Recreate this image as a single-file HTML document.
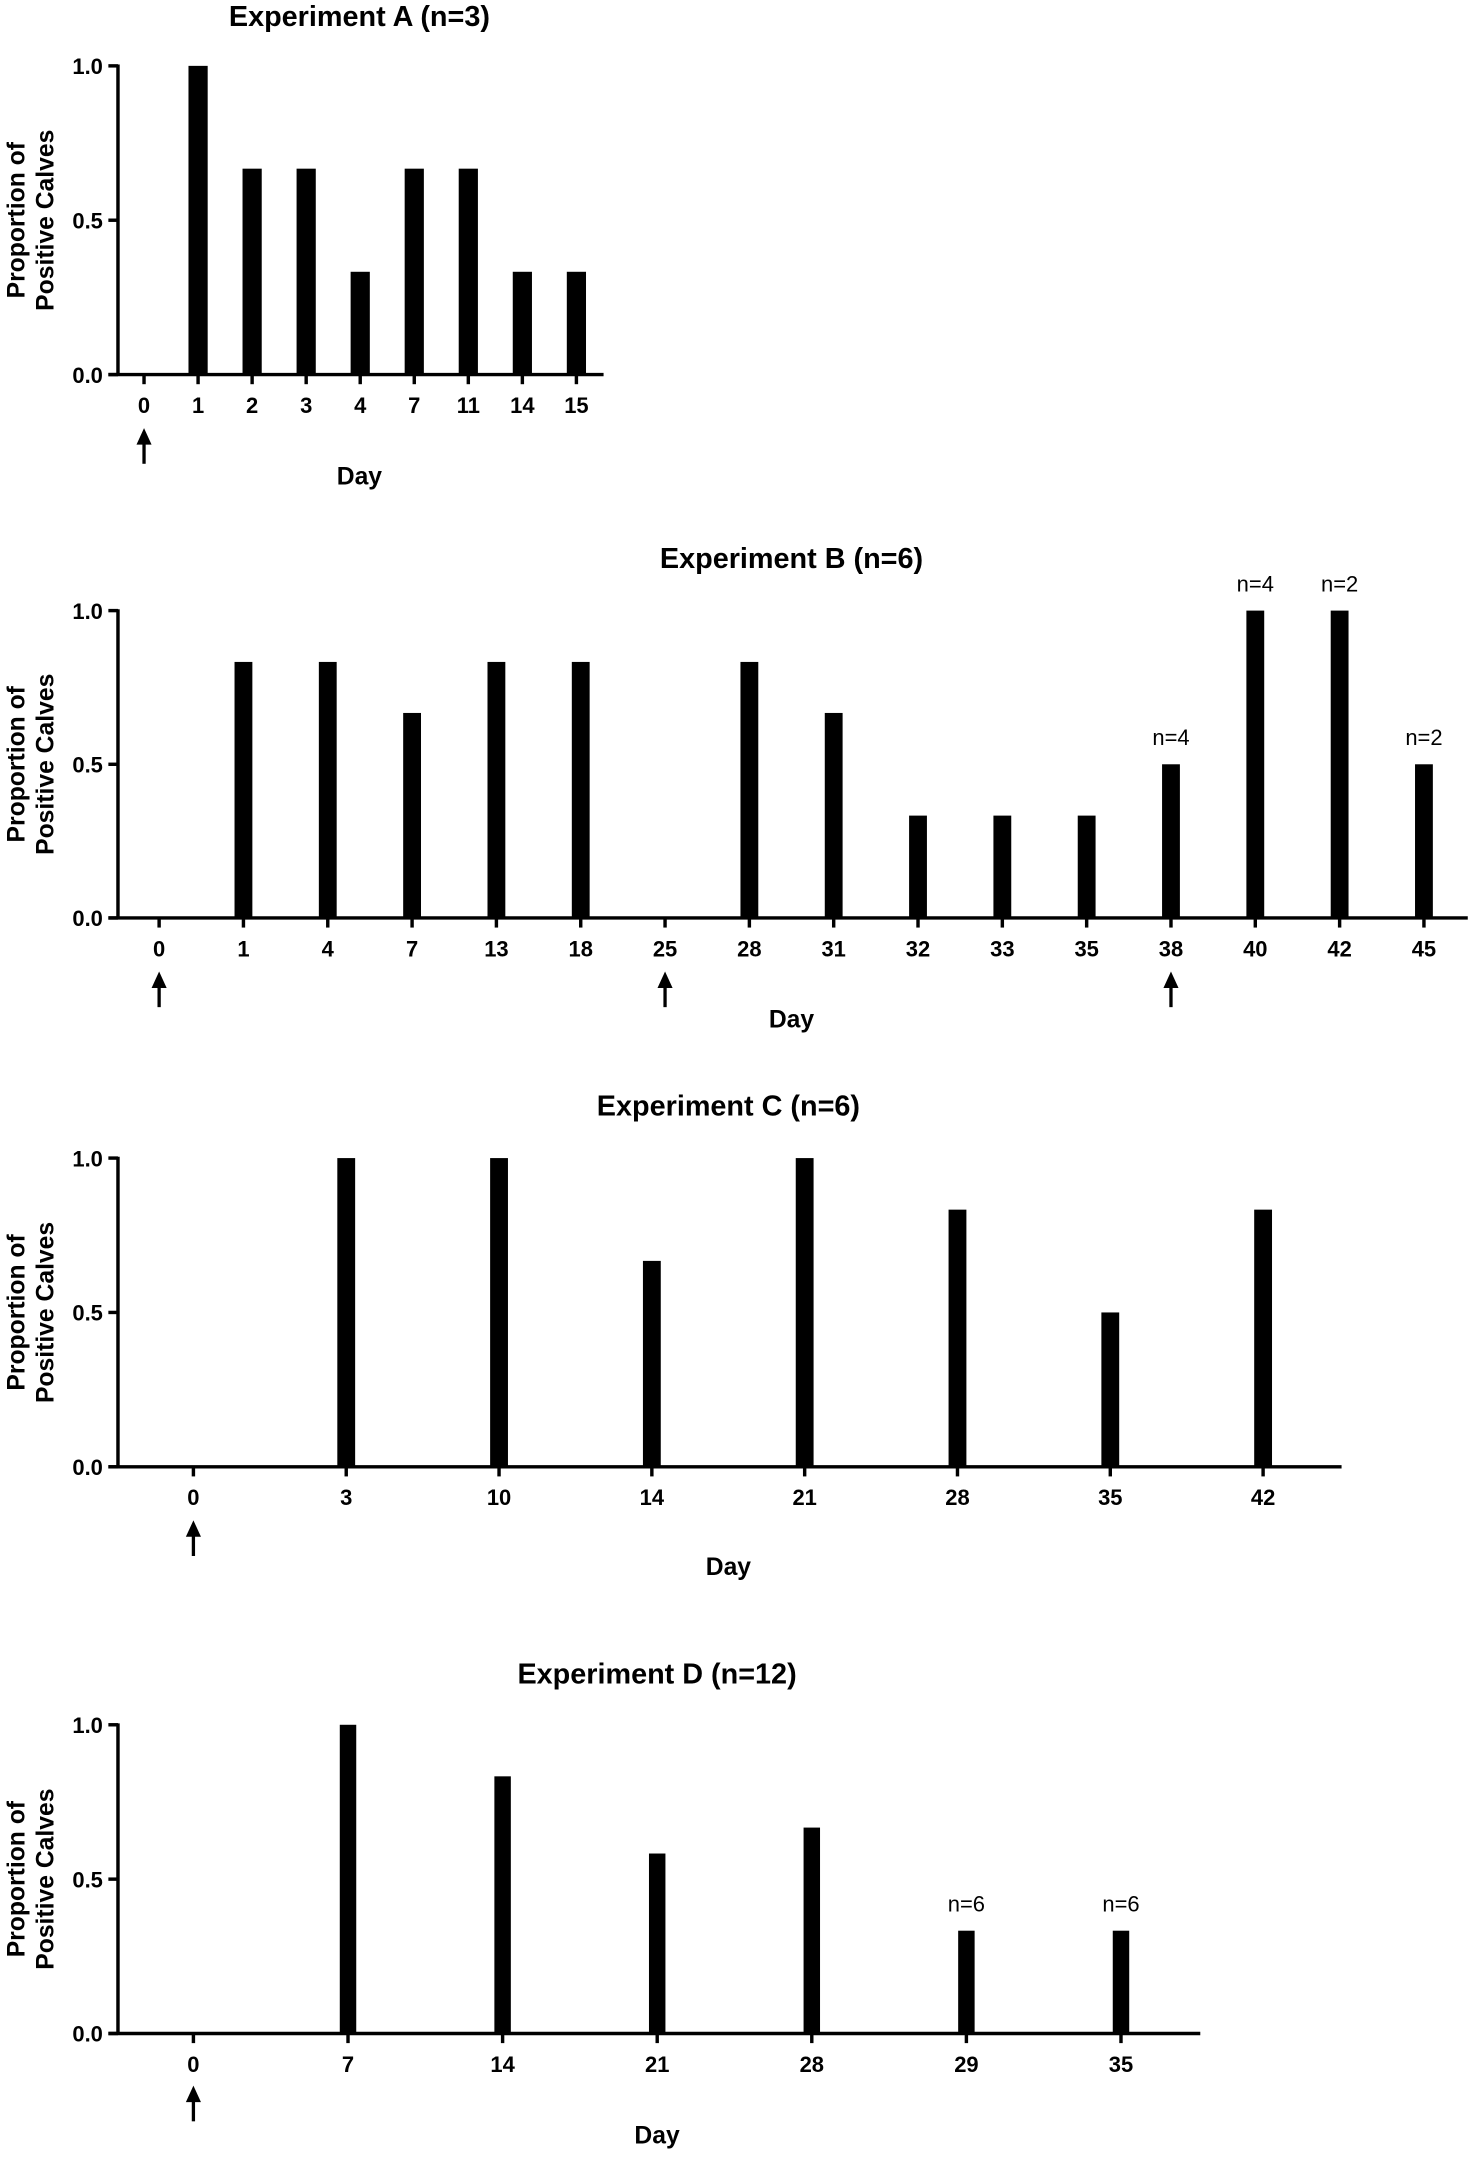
<!DOCTYPE html>
<html><head><meta charset="utf-8"><style>
html,body{margin:0;padding:0;background:#fff;}
svg{display:block;}
text{font-family:"Liberation Sans",Arial,sans-serif;fill:#000;}
</style></head><body>
<svg id="fig" width="1476" height="2157" viewBox="0 0 1076 1572" preserveAspectRatio="none" xmlns="http://www.w3.org/2000/svg"></svg>
<script>
const daysA=["0","1","2","3","4","7","11","14","15"];
const valsA=[0,1,0.667,0.667,0.333,0.667,0.667,0.333,0.333];
const notesA=["","","","","","","","",""];
const arrowsA=["0"];

const daysB=["0","1","4","7","13","18","25","28","31","32","33","35","38","40","42","45"];
const valsB=[0,0.833,0.833,0.667,0.833,0.833,0,0.833,0.667,0.333,0.333,0.333,0.5,1,1,0.5];
const notesB=["","","","","","","","","","","","","n=4","n=4","n=2","n=2"];
const arrowsB=["0","25","38"];

const daysC=["0","3","10","14","21","28","35","42"];
const valsC=[0,1,1,0.667,1,0.833,0.5,0.833];
const notesC=["","","","","","","",""];
const arrowsC=["0"];

const daysD=["0","7","14","21","28","29","35"];
const valsD=[0,1,0.833,0.583,0.667,0.333,0.333];
const notesD=["","","","","","n=6","n=6"];
const arrowsD=["0"];

const yTicks=[0,0.5,1.0];
const yTickLabels=["0.0","0.5","1.0"];

const svg=document.getElementById('fig');
const NS="http://www.w3.org/2000/svg";
function mk(tag,attrs,parent){const e=document.createElementNS(NS,tag);for(const k in attrs)e.setAttribute(k,attrs[k]);(parent||svg).appendChild(e);return e;}

function chart(id,title,days,vals,notes,arrows,L){
  const g=mk('g',{});
  
  
  const yS=v=>L.y0+(L.y1-L.y0)*v;
  const xS=i=>L.x0+L.step*i;
  const t=mk('text',{x:L.tx,y:L.ty,'text-anchor':'middle','font-size':21,'font-weight':'bold'},g);
  t.textContent=title;
  
  
  const ya=mk('line',{x1:L.ax,y1:yS(1)-1,x2:L.ax,y2:yS(0),stroke:'#000','stroke-width':2.5},g);
  
  
  yTicks.forEach((v,i)=>{
    mk('line',{x1:L.ax-7,y1:yS(v),x2:L.ax,y2:yS(v),stroke:'#000','stroke-width':2.5},g);
    const tl=mk('text',{x:L.ax-11,y:yS(v)+6,'text-anchor':'end','font-size':16,'font-weight':'bold'},g);
    tl.textContent=yTickLabels[i];
    
    
  });
  const yl=mk('text',{transform:`translate(${L.ylx},${(yS(0)+yS(1))/2}) rotate(-90)`,'text-anchor':'middle','font-size':18,'font-weight':'bold'},g);
  
  
  const s1=mk('tspan',{x:0,y:0},yl);s1.textContent='Proportion of';
  const s2=mk('tspan',{x:0,y:21},yl);s2.textContent='Positive Calves';
  days.forEach((d,i)=>{
    const x=xS(i);
    if(vals[i]>0){
      const b=mk('rect',{x:x-L.bw/2,y:yS(vals[i]),width:L.bw,height:yS(0)-yS(vals[i]),fill:'#000'},g);
      
      
    }
    mk('line',{x1:x,y1:yS(0),x2:x,y2:yS(0)+7,stroke:'#000','stroke-width':2.5},g);
    const xl=mk('text',{x:x,y:yS(0)+28,'text-anchor':'middle','font-size':16,'font-weight':'bold'},g);
    xl.textContent=d;
    
    
    if(notes[i]){
      const n=mk('text',{x:x,y:yS(vals[i])-14,'text-anchor':'middle','font-size':16},g);
      n.textContent=notes[i];
      
      
    }
    if(arrows.indexOf(d)>=0){
      const a=mk('g',{},g);
      
      
      mk('line',{x1:x,y1:L.ay+8,x2:x,y2:L.ay+26,stroke:'#000','stroke-width':2.4},a);
      mk('polygon',{points:`${x-5.5},${L.ay+12} ${x+5.5},${L.ay+12} ${x},${L.ay}`,fill:'#000'},a);
    }
  });
  const xa=mk('line',{x1:L.ax-7,y1:yS(0),x2:L.xe,y2:yS(0),stroke:'#000','stroke-width':2.5},g);
  
  
  const dl=mk('text',{x:L.dx,y:L.dy,'text-anchor':'middle','font-size':18,'font-weight':'bold'},g);
  dl.textContent='Day';
  
  
}
chart('a','Experiment A (n=3)',daysA,valsA,notesA,arrowsA,{ax:86,y0:273,y1:48,x0:105,step:39.4,xe:440,bw:14,tx:262,ty:19,ylx:18,ay:312,dx:262,dy:353});
chart('b','Experiment B (n=6)',daysB,valsB,notesB,arrowsB,{ax:86,y0:669,y1:445,x0:116,step:61.47,xe:1070,bw:13,tx:577,ty:414,ylx:18,ay:708,dx:577,dy:749});
chart('c','Experiment C (n=6)',daysC,valsC,notesC,arrowsC,{ax:86,y0:1069,y1:844,x0:141,step:111.4,xe:978,bw:13,tx:531,ty:813,ylx:18,ay:1108,dx:531,dy:1148});
chart('d','Experiment D (n=12)',daysD,valsD,notesD,arrowsD,{ax:86,y0:1482,y1:1257,x0:141,step:112.7,xe:875,bw:12,tx:479,ty:1227,ylx:18,ay:1520,dx:479,dy:1562});
</script>
</body></html>
